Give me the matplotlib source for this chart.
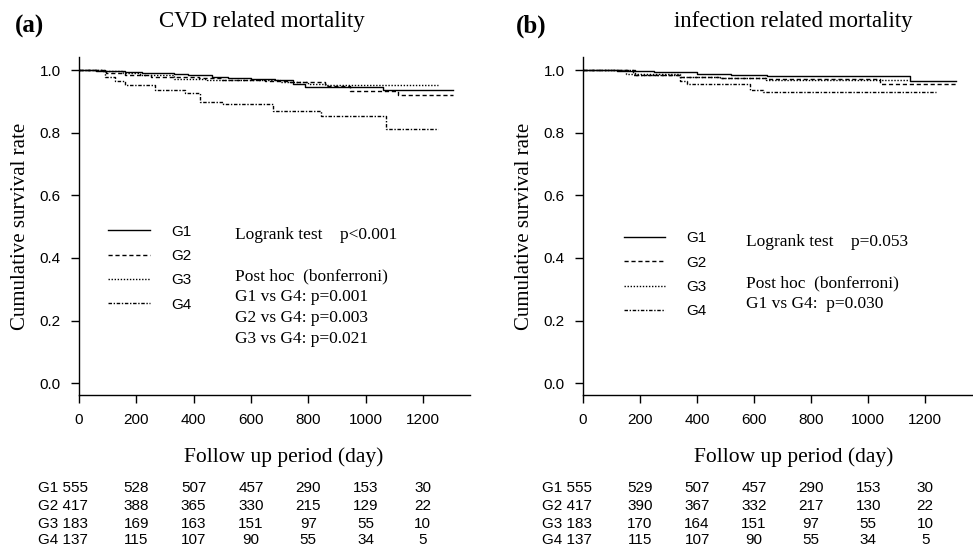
import matplotlib
matplotlib.use("Agg")
import matplotlib.pyplot as plt
from matplotlib.transforms import blended_transform_factory

SERIF = ["Liberation Serif", "DejaVu Serif"]
SANS = ["Liberation Sans", "DejaVu Sans"]

groups = ["G1", "G2", "G3", "G4"]
styles = ["-", (0, (3, 2)), (0, (1, 1.2)), (0, (2.5, 1.2, 1, 1.2))]
tick_days = [0, 200, 400, 600, 800, 1000, 1200]

# (a) CVD related mortality: step curves (day, survival)
cvd_t = {
    "G1": [0, 60, 120, 160, 220, 280, 330, 380, 420, 464, 520, 600, 684, 748, 789, 1061, 1305],
    "G2": [0, 95, 160, 250, 420, 500, 650, 726, 858, 946, 1114, 1305],
    "G3": [0, 80, 155, 213, 330, 446, 560, 700, 800, 866, 1253],
    "G4": [0, 90, 125, 160, 265, 370, 422, 502, 678, 845, 1071, 1253],
}
cvd_s = {
    "G1": [1.0, 0.998, 0.996, 0.994, 0.992, 0.990, 0.988, 0.986, 0.983, 0.979, 0.976, 0.972, 0.968, 0.957, 0.947, 0.936, 0.936],
    "G2": [1.0, 0.990, 0.985, 0.978, 0.974, 0.970, 0.966, 0.963, 0.948, 0.934, 0.921, 0.921],
    "G3": [1.0, 0.998, 0.992, 0.985, 0.973, 0.970, 0.967, 0.962, 0.957, 0.952, 0.952],
    "G4": [1.0, 0.977, 0.965, 0.952, 0.936, 0.926, 0.899, 0.891, 0.869, 0.854, 0.813, 0.813],
}

# (b) infection related mortality
inf_t = {
    "G1": [0, 119, 250, 399, 520, 644, 1148, 1309],
    "G2": [0, 175, 340, 480, 640, 1040, 1309],
    "G3": [0, 150, 340, 480, 640, 1040, 1144],
    "G4": [0, 182, 340, 363, 584, 630, 1239],
}
inf_s = {
    "G1": [1.0, 0.998, 0.993, 0.987, 0.984, 0.981, 0.965, 0.965],
    "G2": [1.0, 0.984, 0.979, 0.975, 0.972, 0.957, 0.957],
    "G3": [1.0, 0.987, 0.978, 0.974, 0.970, 0.968, 0.968],
    "G4": [1.0, 0.984, 0.966, 0.955, 0.938, 0.929, 0.929],
}

# numbers at risk
cvd_risk = {
    "G1": [555, 528, 507, 457, 290, 153, 30],
    "G2": [417, 388, 365, 330, 215, 129, 22],
    "G3": [183, 169, 163, 151, 97, 55, 10],
    "G4": [137, 115, 107, 90, 55, 34, 5],
}
inf_risk = {
    "G1": [555, 529, 507, 457, 290, 153, 30],
    "G2": [417, 390, 367, 332, 217, 130, 22],
    "G3": [183, 170, 164, 151, 97, 55, 10],
    "G4": [137, 115, 107, 90, 55, 34, 5],
}

cvd_notes = ["Logrank test    p<0.001", "", "Post hoc  (bonferroni)",
             "G1 vs G4: p=0.001", "G2 vs G4: p=0.003", "G3 vs G4: p=0.021"]
inf_notes = ["Logrank test    p=0.053", "", "Post hoc  (bonferroni)",
             "G1 vs G4:  p=0.030"]

fig = plt.figure(figsize=(9.73, 5.49), dpi=100)


def draw_panel(rect, tag, title, tag_x, title_x, times, surv, risk, notes,
               leg_anchor, note_xy, xlabel_x):
    ax = fig.add_axes(rect)
    for g, ls in zip(groups, styles):
        ax.step(times[g], surv[g], where="post", color="black", lw=1.0,
                linestyle=ls, label=g)

    ax.set_xlim(0, 1365)
    ax.set_ylim(-0.038, 1.042)
    ax.set_xticks(tick_days)
    ax.set_yticks([0.0, 0.2, 0.4, 0.6, 0.8, 1.0])
    ax.set_yticklabels(["0.0", "0.2", "0.4", "0.6", "0.8", "1.0"])
    for s in ["top", "right"]:
        ax.spines[s].set_visible(False)
    for s in ["left", "bottom"]:
        ax.spines[s].set_linewidth(1.0)
    ax.tick_params(direction="out", length=6, width=1.0, pad=7, labelsize=11)
    for lbl in ax.get_xticklabels() + ax.get_yticklabels():
        lbl.set_family(SANS)

    ax.set_ylabel("Cumulative survival rate", family=SERIF, fontsize=15, labelpad=7)
    ax.set_xlabel("Follow up period (day)", family=SERIF, fontsize=15.5)
    ax.xaxis.set_label_coords(xlabel_x, -0.155)

    leg = ax.legend(loc="upper left", bbox_to_anchor=leg_anchor, frameon=False,
                    handlelength=2.7, handletextpad=1.4, labelspacing=0.68,
                    prop={"family": SANS, "size": 11})
    for line in leg.get_lines():
        line.set_linewidth(1.0)

    ax.text(note_xy[0], note_xy[1], "\n".join(notes), transform=ax.transAxes,
            family=SERIF, fontsize=12.5, va="top", ha="left", linespacing=1.4)

    fig.text(tag_x, 0.952, tag, family=SERIF, fontsize=18, fontweight="bold",
             ha="left", va="center")
    fig.text(title_x, 0.96, title, family=SERIF, fontsize=16.5,
             ha="center", va="center")

    tr = blended_transform_factory(ax.transData, fig.transFigure)
    row_y = [0.111, 0.079, 0.046, 0.017]
    for g, y in zip(groups, row_y):
        counts = risk[g]
        ax.text(-143, y, f"{g} {counts[0]}", transform=tr, family=SANS,
                fontsize=11, ha="left", va="center", clip_on=False)
        for d, n in zip(tick_days[1:], counts[1:]):
            ax.text(d, y, str(n), transform=tr, family=SANS, fontsize=11,
                    ha="center", va="center", clip_on=False)
    return ax


draw_panel([0.0812, 0.2805, 0.402, 0.6157], "(a)", "CVD related mortality",
           0.015, 0.269, cvd_t, cvd_s, cvd_risk, cvd_notes,
           (0.04, 0.545), (0.40, 0.497), 0.524)
draw_panel([0.5992, 0.2805, 0.400, 0.6157], "(b)", "infection related mortality",
           0.530, 0.815, inf_t, inf_s, inf_risk, inf_notes,
           (0.07, 0.525), (0.42, 0.477), 0.542)

fig.savefig("out.png", dpi=100)
